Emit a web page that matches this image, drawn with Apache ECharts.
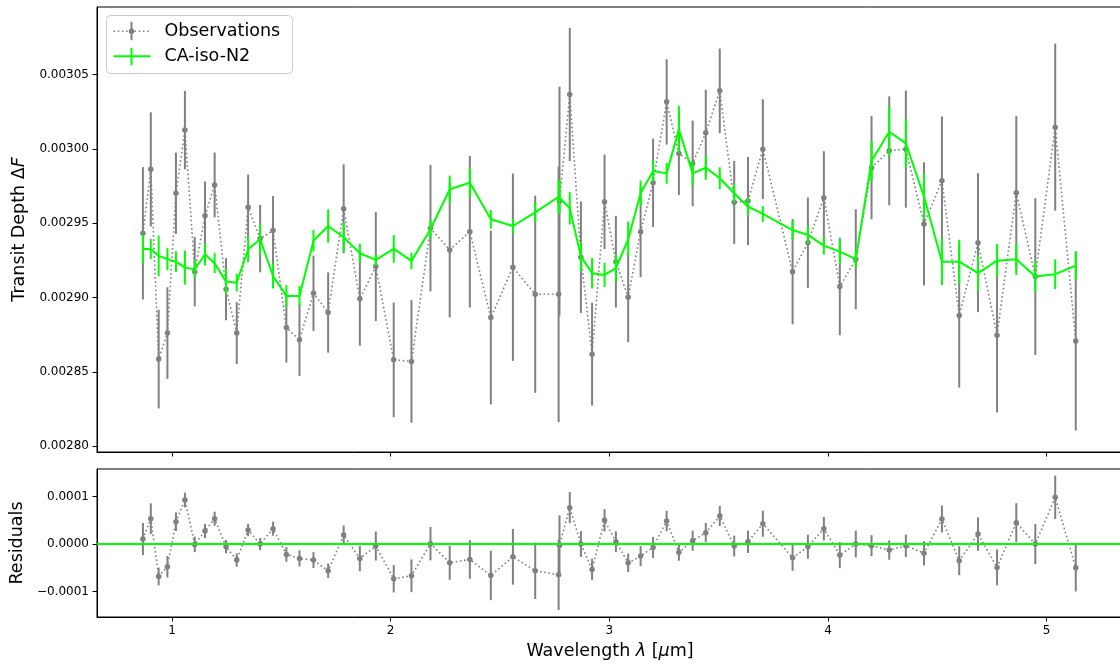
<!DOCTYPE html>
<html><head><meta charset="utf-8">
<script src="https://cdn.jsdelivr.net/npm/echarts@6/dist/echarts.min.js"></script>
<style>html,body{margin:0;padding:0;background:#fff;overflow:hidden}#c{width:1126px;height:666px}</style>
</head><body><div id="c"></div>
<script>
// ---- data ----
const wavelengths = [0.867, 0.903, 0.939, 0.979, 1.018, 1.059, 1.104, 1.151, 1.195, 1.247, 1.296, 1.348, 1.403, 1.462, 1.523, 1.583, 1.647, 1.714, 1.785, 1.859, 1.932,
  2.014, 2.095, 2.182, 2.270, 2.362, 2.458, 2.559, 2.661, 2.768, 2.772, 2.819, 2.870, 2.921, 2.978, 3.030, 3.086, 3.143, 3.200, 3.262, 3.318,
  3.381, 3.441, 3.505, 3.571, 3.634, 3.702, 3.838, 3.908, 3.981, 4.054, 4.127, 4.199, 4.280, 4.356, 4.439, 4.521, 4.600, 4.686, 4.773, 4.861, 4.948, 5.039, 5.133];
const obsDepth = [294.33e-5, 298.63e-5, 285.87e-5, 287.62e-5, 297.02e-5, 301.27e-5, 291.75e-5, 295.51e-5, 297.58e-5, 290.57e-5, 287.62e-5, 296.08e-5, 293.97e-5, 294.51e-5, 287.99e-5, 287.17e-5, 290.30e-5, 289.00e-5, 295.98e-5, 289.92e-5, 292.09e-5,
  285.82e-5, 285.71e-5, 294.67e-5, 293.21e-5, 294.44e-5, 288.66e-5, 292.05e-5, 290.23e-5, 290.23e-5, 296.50e-5, 303.67e-5, 292.72e-5, 286.20e-5, 296.45e-5, 292.42e-5, 290.03e-5, 294.44e-5, 297.73e-5, 303.17e-5, 299.70e-5,
  299.03e-5, 301.09e-5, 303.91e-5, 296.41e-5, 296.50e-5, 299.99e-5, 291.75e-5, 293.70e-5, 296.72e-5, 290.75e-5, 292.59e-5, 298.74e-5, 299.88e-5, 299.99e-5, 294.96e-5, 297.86e-5, 288.80e-5, 293.70e-5, 287.48e-5, 297.06e-5, 291.42e-5, 301.47e-5, 287.08e-5];
const obsErr = [4.45e-5, 3.84e-5, 3.32e-5, 3.08e-5, 2.74e-5, 2.63e-5, 2.33e-5, 2.30e-5, 2.18e-5, 2.09e-5, 2.08e-5, 2.20e-5, 2.26e-5, 2.32e-5, 2.35e-5, 2.43e-5, 2.53e-5, 2.70e-5, 2.99e-5, 3.15e-5, 3.66e-5,
  3.86e-5, 4.12e-5, 4.25e-5, 4.53e-5, 5.10e-5, 5.84e-5, 6.30e-5, 6.63e-5, 8.60e-5, 7.70e-5, 4.48e-5, 3.75e-5, 3.46e-5, 3.18e-5, 3.08e-5, 3.02e-5, 3.06e-5, 2.97e-5, 2.87e-5, 2.80e-5,
  2.88e-5, 2.89e-5, 2.85e-5, 2.79e-5, 2.97e-5, 3.36e-5, 3.54e-5, 3.04e-5, 3.13e-5, 3.28e-5, 3.36e-5, 3.47e-5, 3.66e-5, 3.94e-5, 4.14e-5, 4.33e-5, 4.85e-5, 4.67e-5, 5.20e-5, 5.15e-5, 5.27e-5, 5.62e-5, 6.02e-5];
const modelDepth = [293.28e-5, 293.28e-5, 292.81e-5, 292.59e-5, 292.42e-5, 292.02e-5, 291.91e-5, 292.92e-5, 292.32e-5, 291.08e-5, 291.01e-5, 293.26e-5, 293.93e-5, 291.46e-5, 290.12e-5, 290.12e-5, 293.83e-5, 294.82e-5, 294.06e-5, 292.99e-5, 292.54e-5,
  293.28e-5, 292.47e-5, 294.60e-5, 297.29e-5, 297.73e-5, 295.27e-5, 294.82e-5, 295.74e-5, 296.79e-5, 296.79e-5, 296.01e-5, 292.76e-5, 291.65e-5, 291.53e-5, 291.98e-5, 293.93e-5, 297.02e-5, 298.52e-5, 298.36e-5, 301.32e-5,
  298.36e-5, 298.74e-5, 298.03e-5, 297.02e-5, 296.12e-5, 295.63e-5, 294.55e-5, 294.22e-5, 293.50e-5, 293.10e-5, 292.59e-5, 299.19e-5, 301.16e-5, 300.38e-5, 296.79e-5, 292.42e-5, 292.42e-5, 291.65e-5, 292.49e-5, 292.59e-5, 291.42e-5, 291.58e-5, 292.16e-5];
const modelErr = [0.97e-5, 0.67e-5, 1.37e-5, 0.75e-5, 0.70e-5, 1.15e-5, 0.60e-5, 0.76e-5, 0.67e-5, 0.84e-5, 0.60e-5, 0.87e-5, 1.04e-5, 0.84e-5, 0.73e-5, 0.67e-5, 0.73e-5, 1.12e-5, 0.96e-5, 0.64e-5, 0.40e-5,
  0.93e-5, 0.56e-5, 0.62e-5, 0.92e-5, 0.97e-5, 0.62e-5, 0.48e-5, 0.64e-5, 1.12e-5, 1.12e-5, 1.09e-5, 1.00e-5, 1.03e-5, 0.81e-5, 0.90e-5, 1.18e-5, 0.86e-5, 0.73e-5, 0.70e-5, 1.59e-5,
  0.82e-5, 0.81e-5, 0.74e-5, 0.62e-5, 0.60e-5, 0.53e-5, 0.64e-5, 0.60e-5, 0.60e-5, 0.84e-5, 0.56e-5, 1.37e-5, 1.70e-5, 1.62e-5, 1.57e-5, 1.57e-5, 1.48e-5, 1.20e-5, 1.12e-5, 1.06e-5, 1.04e-5, 1.00e-5, 0.95e-5];
const residuals = [1.05e-5, 5.33e-5, -6.80e-5, -4.77e-5, 4.70e-5, 9.26e-5, -0.07e-5, 2.74e-5, 5.33e-5, -0.56e-5, -3.37e-5, 2.95e-5, 0.00e-5, 3.23e-5, -2.18e-5, -3.02e-5, -3.37e-5, -5.61e-5, 1.89e-5, -3.02e-5, -0.42e-5,
  -7.30e-5, -6.67e-5, 0.07e-5, -3.93e-5, -3.23e-5, -6.60e-5, -2.67e-5, -5.61e-5, -6.46e-5, -0.25e-5, 7.65e-5, 0.00e-5, -5.33e-5, 4.98e-5, 0.49e-5, -3.93e-5, -2.53e-5, -0.70e-5, 4.84e-5, -1.75e-5,
  0.70e-5, 2.39e-5, 5.89e-5, -0.42e-5, 0.49e-5, 4.28e-5, -2.88e-5, -0.56e-5, 3.23e-5, -2.32e-5, 0.00e-5, -0.35e-5, -1.26e-5, -0.35e-5, -1.96e-5, 5.26e-5, -3.51e-5, 2.10e-5, -4.91e-5, 4.49e-5, 0.00e-5, 9.82e-5, -4.98e-5];
const residualErr = [3.37e-5, 3.23e-5, 1.86e-5, 2.25e-5, 1.96e-5, 1.54e-5, 1.62e-5, 1.51e-5, 1.47e-5, 1.40e-5, 1.40e-5, 1.30e-5, 1.30e-5, 1.47e-5, 1.54e-5, 1.68e-5, 1.68e-5, 1.54e-5, 2.00e-5, 2.67e-5, 3.05e-5,
  2.88e-5, 3.44e-5, 3.50e-5, 3.58e-5, 4.07e-5, 5.19e-5, 5.86e-5, 5.93e-5, 7.40e-5, 6.30e-5, 3.26e-5, 2.70e-5, 2.25e-5, 2.35e-5, 2.18e-5, 1.93e-5, 2.10e-5, 2.21e-5, 2.14e-5, 1.75e-5,
  2.10e-5, 2.04e-5, 2.14e-5, 2.18e-5, 2.35e-5, 2.74e-5, 2.74e-5, 2.53e-5, 2.46e-5, 2.74e-5, 2.81e-5, 2.21e-5, 2.04e-5, 2.35e-5, 2.53e-5, 2.81e-5, 3.05e-5, 3.51e-5, 3.75e-5, 4.10e-5, 4.21e-5, 4.56e-5, 4.98e-5];
const xTicks = [1, 2, 3, 4, 5];
const depthTicks = [0.00280, 0.00285, 0.00290, 0.00295, 0.00300, 0.00305];
const residualTicks = [-0.0001, 0, 0.0001];
const seriesNames = ['Observations', 'CA-iso-N2'];

// ---- styling ----
const GREY = '#808080', GREEN = '#00ff00', FONT = 'DejaVu Sans';
const X_MIN = 0.657, X_MAX = 5.349;

const chart = echarts.init(document.getElementById('c'), null, {renderer: 'canvas'});

function errorBars(xi, vals, errs, color, width, z) {
  return {
    type: 'custom', xAxisIndex: xi, yAxisIndex: xi, z: z, silent: true, animation: false,
    data: wavelengths.map((w, i) => [w, vals[i] - errs[i], vals[i] + errs[i]]),
    encode: {x: 0, y: [1, 2]},
    renderItem: (params, api) => {
      const lo = api.coord([api.value(0), api.value(1)]);
      const hi = api.coord([api.value(0), api.value(2)]);
      return {type: 'line', shape: {x1: lo[0], y1: lo[1], x2: hi[0], y2: hi[1]},
        style: {stroke: color, lineWidth: width}};
    }
  };
}
function dottedLine(xi, vals, z) {
  return {
    type: 'line', xAxisIndex: xi, yAxisIndex: xi, z: z, animation: false, silent: true,
    data: wavelengths.map((w, i) => [w, vals[i]]),
    symbol: 'circle', symbolSize: 5.5, showSymbol: true,
    itemStyle: {color: GREY},
    lineStyle: {color: GREY, width: 1.6, type: [1.6, 2.6]}
  };
}
function xAxisCfg(gi, showLabels, name) {
  return {
    type: 'value', gridIndex: gi, min: X_MIN, max: X_MAX,
    axisLine: {show: true, onZero: false, lineStyle: {color: '#000', width: 1}},
    axisTick: {show: true, customValues: xTicks, length: 4.5, lineStyle: {color: '#000', width: 1}},
    axisLabel: {show: showLabels, customValues: xTicks, fontSize: 12, color: '#000', margin: 8, fontFamily: FONT},
    splitLine: {show: false},
    name: name, nameLocation: 'middle', nameGap: 25,
    nameTextStyle: {fontSize: 17.5, color: '#000', fontFamily: FONT,
      rich: {i: {fontSize: 17.5, fontStyle: 'italic', fontFamily: FONT, color: '#000'}}}
  };
}
function yAxisCfg(gi, min, max, ticks, fmt, name, rich) {
  return {
    type: 'value', gridIndex: gi, min: min, max: max,
    axisLine: {show: true, onZero: false, lineStyle: {color: '#000', width: 1}},
    axisTick: {show: true, customValues: ticks, length: 4.5, lineStyle: {color: '#000', width: 1}},
    axisLabel: {show: true, customValues: ticks, fontSize: 12, color: '#000', margin: 8, fontFamily: FONT, formatter: fmt},
    splitLine: {show: false},
    name: name, nameLocation: 'middle', nameGap: 56,
    nameTextStyle: {fontSize: 17.5, color: '#000', fontFamily: FONT, rich: rich}
  };
}

const option = {
  animation: false,
  backgroundColor: '#fff',
  textStyle: {fontFamily: FONT},
  grid: [
    {left: 97, top: 7, right: 3, height: 445, show: true, borderColor: '#000', borderWidth: 1, backgroundColor: 'transparent'},
    {left: 97, top: 469, right: 3, height: 148, show: true, borderColor: '#000', borderWidth: 1, backgroundColor: 'transparent'}
  ],
  xAxis: [
    xAxisCfg(0, false, ''),
    xAxisCfg(1, true, 'Wavelength {i|λ} [{i|μ}m]')
  ],
  yAxis: [
    yAxisCfg(0, 0.0027962, 0.0030955, depthTicks, v => v.toFixed(5), 'Transit Depth Δ{i|F}',
      {i: {fontSize: 17.5, fontStyle: 'italic', fontFamily: FONT, color: '#000'}}),
    yAxisCfg(1, -0.0001533, 0.0001577, residualTicks, v => (v < 0 ? '\u2212' : '') + Math.abs(v).toFixed(4), 'Residuals', {})
  ],
  series: [
    errorBars(0, obsDepth, obsErr, GREY, 2, 2),
    dottedLine(0, obsDepth, 3),
    {
      type: 'line', xAxisIndex: 0, yAxisIndex: 0, z: 4, animation: false, silent: true,
      data: wavelengths.map((w, i) => [w, modelDepth[i]]),
      showSymbol: false, symbol: 'none',
      lineStyle: {color: GREEN, width: 2}
    },
    errorBars(0, modelDepth, modelErr, GREEN, 2, 5),
    errorBars(1, residuals, residualErr, GREY, 2, 2),
    dottedLine(1, residuals, 3),
    {
      type: 'line', xAxisIndex: 1, yAxisIndex: 1, z: 6, animation: false, silent: true, data: [],
      markLine: {silent: true, symbol: 'none', animation: false, label: {show: false},
        lineStyle: {color: GREEN, width: 2, type: 'solid'}, data: [{yAxis: 0}]}
    }
  ],
  graphic: [{
    type: 'group', left: 106, top: 15, z: 100,
    children: [
      {type: 'rect', shape: {x: 0, y: 0, width: 186, height: 58, r: 4},
        style: {fill: 'rgba(255,255,255,0.85)', stroke: '#cccccc', lineWidth: 1}},
      {type: 'line', shape: {x1: 7, y1: 15.7, x2: 44, y2: 15.7}, style: {stroke: GREY, lineWidth: 1.6, lineDash: [1.6, 2.6]}},
      {type: 'line', shape: {x1: 25, y1: 6.3, x2: 25, y2: 24.7}, style: {stroke: GREY, lineWidth: 2}},
      {type: 'circle', shape: {cx: 25, cy: 15.7, r: 2.75}, style: {fill: GREY}},
      {type: 'text', x: 58, y: 15.7, style: {text: seriesNames[0], fontSize: 17.5, fontFamily: FONT, fill: '#000', verticalAlign: 'middle'}},
      {type: 'line', shape: {x1: 7, y1: 40.7, x2: 44, y2: 40.7}, style: {stroke: GREEN, lineWidth: 2}},
      {type: 'line', shape: {x1: 25, y1: 32.3, x2: 25, y2: 49.7}, style: {stroke: GREEN, lineWidth: 2}},
      {type: 'text', x: 58, y: 40.7, style: {text: seriesNames[1], fontSize: 17.5, fontFamily: FONT, fill: '#000', verticalAlign: 'middle'}}
    ]
  }]
};
chart.setOption(option);
</script></body></html>
